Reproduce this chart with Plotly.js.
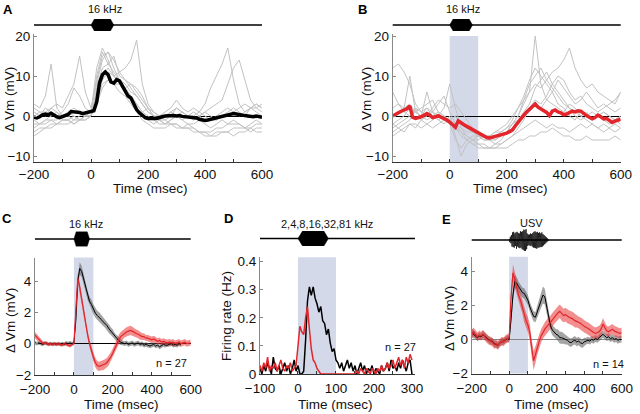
<!DOCTYPE html>
<html><head><meta charset="utf-8">
<script src="https://cdn.plot.ly/plotly-3.0.1.min.js"></script>
<style>html,body{margin:0;padding:0;background:#fff}#chart{width:640px;height:414px}</style>
</head><body><div id="chart"></div>
<script>
// ---------- time grids ----------
const t10 = [-200,-190,-180,-170,-160,-150,-140,-130,-120,-110,-100,-90,-80,-70,-60,-50,-40,-30,-20,-10,0,10,20,30,40,50,60,70,80,90,100,110,120,130,140,150,160,170,180,190,200,210,220,230,240,250,260,270,280,290,300,310,320,330,340,350,360,370,380,390,400,410,420,430,440,450,460,470,480,490,500,510,520,530,540,550,560,570,580,590,600];
const t20 = [-200,-180,-160,-140,-120,-100,-80,-60,-40,-20,0,20,40,60,80,100,120,140,160,180,200,220,240,260,280,300,320,340,360,380,400,420,440,460,480,500,520,540,560,580,600];
const tD = [-100,-95,-90,-85,-80,-75,-70,-65,-60,-55,-50,-45,-40,-35,-30,-25,-20,-15,-10,-5,0,5,10,15,20,25,30,35,40,45,50,55,60,65,70,75,80,85,90,95,100,105,110,115,120,125,130,135,140,145,150,155,160,165,170,175,180,185,190,195,200,205,210,215,220,225,230,235,240,245,250,255,260,265,270,275,280,285,290,295,300];

// ---------- stimulus ----------
const toneOnOff = [0, 80];       // ms, tone pip glyph
const shadeWindow = [0, 100];     // ms, shaded analysis window
const usvT = [0,3,6,9,12,15,18,21,24,27,30,33,36,39,42,45,48,51,54,57,60,63,66,69,72,75,78,81,84,87,90,93,96,99,102,105,108,111,114,117,120,123,126,129,132,135,138,141,144,147,150,153,156,159,162,165,168,171,174,177,180,183,186,189,192,195,198,201,204,207,210];
const usvWave = [0.1,-0.2,0.3,-0.3,0.45,-0.6,0.7,-0.65,0.75,-0.7,0.6,-0.55,0.7,-0.8,0.75,-0.6,0.65,-0.7,0.6,-0.75,0.8,-0.7,0.75,-0.85,0.8,-0.9,0.95,-1.0,0.9,-1.0,1.0,-0.85,0.6,-0.55,0.5,-0.45,0.5,-0.55,0.6,-0.5,0.55,-0.6,0.65,-0.7,0.75,-0.7,0.8,-0.75,0.7,-0.8,0.75,-0.7,0.65,-0.7,0.7,-0.65,0.6,-0.65,0.7,-0.6,0.55,-0.5,0.45,-0.4,0.35,-0.3,0.25,-0.2,0.15,-0.1,0.05];

// ---------- panel A (16 kHz, single cells + mean) ----------
const meanA = [-0.3,-0.5,-0.2,0.3,0.5,0.3,0.7,0.2,-0.2,-0.4,-0.2,0.0,0.4,1.1,1.0,1.1,0.9,0.6,0.8,0.9,1.0,1.3,3.5,8.3,10.3,11.0,10.3,8.5,8.2,9.1,8.8,7.6,6.4,5.0,4.5,3.0,1.6,0.8,0.1,-0.4,-0.6,-0.7,-0.6,-0.6,-0.3,-0.2,0.0,0.1,0.2,0.1,0.0,0.1,-0.1,-0.2,-0.1,-0.3,-0.3,-0.5,-0.8,-1.0,-1.1,-1.0,-0.8,-0.6,-0.4,-0.2,0.0,0.2,0.3,0.4,0.6,0.5,0.3,0.2,0.1,0.0,-0.1,-0.2,0.0,-0.1,-0.3];
const cellsA = [
 [3,2,5,13,2,0,1,2,1,0,1,12,17,14,10,8,6,4,2,0,-1,-2,-1,0,1,0,-1,0,1,0,1,0,-1,0,1,2,1,0,2,3,2],
 [0,1,0,2,3,2,5,8,15,6,2,8,14,16,12,9,7,5,3,1,0,-1,-2,-2,-1,0,-1,-2,-2,-1,-2,-3,-2,-1,-2,-1,-2,-3,-2,-1,-2],
 [-2,-2,-1,-1,-2,-1,-1,0,-1,-1,0,6,10,12,10,11,12,14,19,8,3,1,0,0,1,2,1,0,-1,0,-1,-1,0,1,2,1,0,1,2,1,0],
 [-3,-2,-2,-1,-1,0,1,0,-1,0,0,5,9,11,10,9,7,5,3,1,2,1,0,1,2,4,2,1,2,1,3,7,10,13,17,9,3,1,2,3,2],
 [1,0,2,1,0,1,3,7,5,2,1,9,15,16,14,11,9,8,6,4,2,0,-1,-2,-1,0,1,0,-1,0,1,2,3,4,8,12,14,9,4,2,1],
 [-4,-3,-3,-2,-2,-1,-1,-2,-1,-1,0,4,8,9,8,8,7,8,7,5,2,0,-1,-2,-2,-3,-3,-2,-3,-4,-4,-4,-3,-3,-2,-2,-2,-3,-3,-2,-2],
 [-5,-4,-3,-3,-2,-2,-2,-1,-1,0,0,3,7,9,8,6,5,3,1,-1,-2,-3,-3,-3,-2,-2,-3,-3,-4,-4,-5,-5,-4,-4,-4,-3,-3,-3,-4,-3,-3],
 [-1,-2,-1,0,1,-1,-1,-2,-1,0,0,7,12,13,11,9,8,6,5,3,1,0,0,-1,0,2,1,0,0,1,0,-1,-1,0,0,1,2,3,2,2,3],
 [2,1,1,2,1,0,0,-1,0,1,1,10,16,13,15,10,9,7,5,3,1,0,-1,-1,-2,-2,-3,-3,-3,-4,-4,-5,-5,-4,-4,-5,-4,-4,-3,-4,-4]
];

// ---------- panel B ----------
const meanB = [0.0,0.3,0.8,1.2,1.5,1.8,2.5,-0.3,-0.6,-0.5,-0.2,0.2,0.6,0.2,-0.4,-0.2,0.1,-0.3,-0.6,-1.0,-1.5,-2.3,-2.8,-1.2,-1.8,-2.2,-2.6,-3.0,-3.4,-3.8,-4.0,-4.5,-5.0,-5.4,-5.5,-5.3,-5.1,-5.0,-4.9,-4.6,-4.3,-3.9,-3.5,-2.5,-1.5,-0.8,0.2,1.0,1.6,2.4,3.0,2.2,1.8,1.3,0.9,0.1,1.2,1.5,1.0,0.8,0.3,0.5,0.8,1.2,1.0,1.3,1.2,0.6,0.1,-0.3,-0.7,-0.4,0.2,-0.2,-0.7,-0.6,-1.2,-1.6,-1.3,-1.0,-0.8];
const cellsB = [
 [12,13,11,8,3,1,2,0,-1,0,-1,0,-2,-3,-4,-5,-6,-6,-5,-4,-3,-1,2,5,9,12,10,8,6,9,7,5,3,4,6,4,2,3,2,1,2],
 [6,3,2,10,1,0,2,1,3,5,1,-2,-4,-6,-7,-8,-8,-8,-7,-6,-4,-2,0,3,6,20,8,4,6,3,2,0,-1,1,0,-1,0,1,0,-1,0],
 [-2,-1,0,2,1,0,-1,0,1,0,-2,-3,-4,-5,-6,-6,-5,-5,-4,-3,-2,0,2,4,6,8,7,9,11,12,14,17,12,9,7,8,6,5,4,3,6],
 [0,1,2,3,1,0,6,1,0,2,8,2,-3,-5,-6,-7,-8,-8,-8,-7,-6,-5,-3,-1,2,4,3,5,8,6,4,2,0,-1,0,1,0,-1,-2,-1,-2],
 [-3,-2,-1,0,2,-1,0,1,-1,-2,0,-5,-10,-7,-6,-5,-5,-5,-4,-4,-3,-2,-1,0,1,3,2,4,3,2,1,3,2,0,1,-1,0,1,0,-1,0],
 [-5,-4,-3,-2,-2,-3,-2,-3,-2,-1,-2,-3,-5,-6,-7,-7,-7,-8,-8,-8,-8,-7,-6,-6,-5,-5,-4,-4,-3,-4,-5,-5,-6,-6,-5,-6,-6,-6,-6,-5,-6],
 [2,3,1,0,1,2,3,4,1,0,-1,-2,-3,-4,-4,-5,-5,-6,-6,-5,-4,-2,0,4,8,10,12,9,7,5,3,2,1,0,-1,-2,-3,-2,-3,-2,-3],
 [-4,-3,-4,-2,-3,-1,-2,-1,0,-1,-2,-6,-8,-6,-5,-5,-6,-6,-7,-7,-6,-5,-4,-3,-2,-1,-2,-3,-2,-3,-3,-4,-3,-2,-3,-2,-3,-4,-3,-4,-3],
 [-2,-3,-2,-1,2,1,0,2,4,3,2,3,1,-1,-3,-4,-5,-5,-6,-5,-4,-3,-1,1,3,7,9,11,8,10,9,6,4,5,3,2,1,2,3,4,6]
];

// ---------- panel C (population, n = 27) ----------
const cBlack = [0.05,0.0,0.05,0.0,-0.05,0.05,0.0,-0.05,0.0,-0.05,0.0,-0.05,0.0,-0.05,0.0,-0.05,0.05,0.0,0.05,0.0,0.05,1.5,4.0,4.8,4.6,4.1,3.6,3.1,2.7,2.5,2.2,1.95,1.8,1.7,1.55,1.4,1.3,1.15,0.95,0.8,0.65,0.45,0.35,0.2,0.1,0.05,0.0,0.05,-0.05,0.0,0.05,-0.05,0.0,0.05,-0.05,0.0,-0.1,-0.05,-0.1,-0.15,-0.1,-0.05,-0.15,-0.1,-0.2,-0.1,-0.05,-0.1,-0.1,-0.05,0.0,-0.1,-0.05,-0.1,0.0,-0.05];
const cBlackSem = [0.12,0.12,0.12,0.12,0.12,0.12,0.12,0.12,0.12,0.12,0.12,0.12,0.12,0.12,0.12,0.12,0.12,0.12,0.12,0.12,0.12,0.2,0.3,0.4,0.35,0.3,0.3,0.3,0.3,0.3,0.3,0.3,0.3,0.3,0.3,0.28,0.28,0.28,0.28,0.25,0.25,0.22,0.2,0.2,0.18,0.15,0.15,0.15,0.15,0.15,0.15,0.15,0.15,0.15,0.15,0.15,0.15,0.15,0.15,0.15,0.15,0.15,0.15,0.15,0.15,0.15,0.15,0.15,0.15,0.15,0.15,0.15,0.15,0.15,0.15,0.15];
const cRed = [0.55,0.4,0.3,0.15,0.05,0.0,0.05,-0.05,0.0,-0.05,0.0,-0.05,0.0,-0.05,-0.1,0.0,-0.05,-0.1,-0.15,-0.05,0.0,2.2,4.2,3.6,2.8,2.0,1.2,0.6,0.0,-0.5,-0.85,-1.2,-1.4,-1.45,-1.4,-1.4,-1.3,-1.2,-1.05,-0.85,-0.6,-0.3,0.0,0.25,0.45,0.55,0.7,0.75,0.8,0.85,0.8,0.7,0.65,0.6,0.5,0.45,0.45,0.35,0.35,0.3,0.25,0.3,0.2,0.15,0.2,0.1,0.15,0.1,0.05,0.1,0.05,0.1,0.0,0.05,0.1,0.0,0.05,0.1,0.0,0.05,0.05];
const cRedSem = [0.2,0.2,0.18,0.15,0.12,0.1,0.1,0.1,0.1,0.1,0.1,0.1,0.1,0.1,0.1,0.1,0.1,0.1,0.1,0.1,0.1,0.25,0.35,0.3,0.3,0.25,0.25,0.25,0.25,0.25,0.28,0.3,0.3,0.3,0.3,0.3,0.3,0.3,0.3,0.3,0.3,0.3,0.3,0.3,0.3,0.3,0.3,0.3,0.3,0.3,0.28,0.28,0.25,0.25,0.25,0.22,0.22,0.2,0.2,0.2,0.2,0.2,0.2,0.2,0.2,0.2,0.2,0.2,0.2,0.2,0.2,0.2,0.2,0.2,0.2,0.2,0.2,0.2,0.2,0.2,0.2];

// ---------- panel D (firing rate, n = 27) ----------
const dBlack = [0.02,0.00,0.03,0.01,0.04,0.02,0.00,0.06,0.02,0.01,0.03,0.00,0.02,0.04,0.01,0.03,0.00,0.02,0.05,0.01,0.03,0.00,0.00,0.01,0.12,0.26,0.31,0.28,0.31,0.27,0.25,0.22,0.24,0.19,0.18,0.14,0.16,0.11,0.08,0.09,0.05,0.04,0.02,0.04,0.01,0.03,0.05,0.02,0.04,0.01,0.03,0.00,0.02,0.04,0.01,0.03,0.00,0.02,0.01,0.03,0.00,0.02,0.01,0.00,0.03,0.01,0.02,0.04,0.01,0.05,0.02,0.03,0.01,0.04,0.02,0.05,0.03,0.01,0.04,0.05,0.00];
const dRed = [0.03,0.01,0.04,0.02,0.06,0.01,0.03,0.02,0.04,0.01,0.03,0.05,0.02,0.01,0.03,0.02,0.04,0.01,0.02,0.03,0.10,0.17,0.15,0.14,0.20,0.24,0.16,0.09,0.05,0.04,0.02,0.01,0.00,0.00,0.00,0.00,0.00,0.00,0.00,0.00,0.00,0.00,0.00,0.00,0.00,0.00,0.00,0.00,0.00,0.00,0.00,0.01,0.00,0.02,0.01,0.00,0.02,0.01,0.00,0.02,0.01,0.00,0.02,0.01,0.03,0.01,0.02,0.04,0.02,0.03,0.05,0.02,0.04,0.06,0.03,0.05,0.02,0.06,0.04,0.07,0.05];

// ---------- panel E (USV, n = 14) ----------
const eBlack = [0.4,0.3,0.25,0.1,0.2,0.15,0.3,0.2,0.1,0.0,-0.1,-0.1,-0.25,-0.3,-0.35,-0.2,-0.15,-0.1,-0.05,0.05,0.0,1.2,2.6,3.4,3.3,3.1,2.9,2.75,2.7,2.5,2.3,1.9,1.6,1.35,1.3,1.6,2.0,2.3,2.6,2.5,1.9,1.3,0.8,0.55,0.4,0.3,0.25,0.1,0.1,0.05,0.0,-0.05,-0.15,-0.2,-0.1,-0.05,-0.15,-0.1,-0.2,-0.25,-0.15,-0.1,-0.05,-0.1,0.0,-0.05,0.05,0.0,0.1,0.2,0.3,0.2,0.1,0.15,0.05,0.1,0.0,0.05,-0.05,0.0,0.0];
const eBlackSem = [0.25,0.25,0.2,0.2,0.2,0.2,0.2,0.2,0.2,0.2,0.2,0.2,0.2,0.2,0.2,0.2,0.2,0.2,0.2,0.2,0.2,0.3,0.35,0.4,0.35,0.3,0.3,0.3,0.3,0.3,0.3,0.3,0.3,0.3,0.3,0.35,0.4,0.45,0.5,0.45,0.4,0.35,0.3,0.3,0.3,0.3,0.35,0.35,0.35,0.3,0.3,0.25,0.25,0.25,0.25,0.25,0.25,0.25,0.25,0.25,0.25,0.2,0.2,0.2,0.2,0.2,0.2,0.2,0.2,0.2,0.2,0.2,0.2,0.2,0.2,0.2,0.2,0.2,0.2,0.2,0.2];
const eRed = [0.3,0.45,0.3,0.15,0.25,0.2,0.3,0.15,0.05,-0.05,-0.1,-0.15,-0.3,-0.25,-0.35,-0.2,-0.1,-0.15,0.0,0.05,0.1,2.5,3.9,3.5,3.0,2.6,2.3,1.9,1.4,1.1,0.85,0.4,-0.5,-1.25,-0.9,-0.45,-0.1,0.2,0.45,0.6,0.75,0.85,1.0,1.15,1.3,1.45,1.55,1.65,1.5,1.4,1.45,1.35,1.3,1.25,1.2,1.1,1.05,1.0,0.95,0.85,0.75,0.7,0.65,0.55,0.45,0.4,0.35,0.4,0.45,0.6,0.9,0.7,0.5,0.45,0.55,0.6,0.5,0.45,0.4,0.35,0.4];
const eRedSem = [0.25,0.25,0.25,0.25,0.25,0.25,0.25,0.25,0.25,0.25,0.25,0.25,0.25,0.25,0.25,0.25,0.25,0.25,0.25,0.25,0.25,0.35,0.5,0.45,0.4,0.4,0.4,0.4,0.4,0.45,0.45,0.5,0.5,0.55,0.5,0.45,0.4,0.4,0.4,0.4,0.4,0.4,0.4,0.4,0.4,0.4,0.4,0.4,0.4,0.4,0.4,0.4,0.4,0.4,0.4,0.4,0.35,0.35,0.35,0.35,0.35,0.35,0.35,0.35,0.35,0.35,0.35,0.35,0.35,0.35,0.35,0.3,0.3,0.3,0.3,0.3,0.3,0.3,0.3,0.3,0.3];

// ---------- helpers ----------
const RED = '#e2262b';
const FONT = 'Liberation Sans, Arial, Helvetica, sans-serif';
function band(t, m, s, xa, ya, color) {
  const up = m.map((v, i) => v + s[i]);
  const lo = m.map((v, i) => v - s[i]).reverse();
  return {x: t.concat(t.slice().reverse()), y: up.concat(lo), xaxis: xa, yaxis: ya,
          type: 'scatter', mode: 'lines', fill: 'toself', fillcolor: color,
          line: {width: 0}, hoverinfo: 'skip'};
}
function line(t, y, xa, ya, color, w) {
  return {x: t, y: y, xaxis: xa, yaxis: ya, type: 'scatter', mode: 'lines',
          line: {color: color, width: w}, hoverinfo: 'skip'};
}
function tonePip(xa, ya) {
  const on = toneOnOff[0], off = toneOnOff[1], r = (off - on) * 0.15;
  return {x: [on, on + r, off - r, off, off - r, on + r, on], y: [0, 1, 1, 0, -1, -1, 0],
          xaxis: xa, yaxis: ya, type: 'scatter', mode: 'lines', fill: 'toself',
          fillcolor: '#000', line: {color: '#000', width: 0.5}, hoverinfo: 'skip'};
}

const traces = [];
cellsA.forEach(c => traces.push(line(t20, c, 'x', 'y', '#c2c2c2', 1)));
traces.push(line(t10, meanA, 'x', 'y', '#000', 3.5));
cellsB.forEach(c => traces.push(line(t20, c, 'x2', 'y2', '#c2c2c2', 1)));
traces.push(line(t10, meanB, 'x2', 'y2', RED, 3.5));
const tC = t10.slice(0, cBlack.length);
traces.push(band(tC, cBlack, cBlackSem, 'x3', 'y3', 'rgba(90,90,90,0.55)'));
traces.push(band(t10, cRed, cRedSem, 'x3', 'y3', 'rgba(232,50,50,0.55)'));
traces.push(line(tC, cBlack, 'x3', 'y3', '#000', 1));
traces.push(line(t10, cRed, 'x3', 'y3', RED, 1.2));
traces.push(line(tD, dBlack, 'x4', 'y4', '#000', 1.5));
traces.push(line(tD, dRed, 'x4', 'y4', RED, 1.5));
traces.push(band(t10, eBlack, eBlackSem, 'x5', 'y5', 'rgba(90,90,90,0.55)'));
traces.push(band(t10, eRed, eRedSem, 'x5', 'y5', 'rgba(232,50,50,0.55)'));
traces.push(line(t10, eBlack, 'x5', 'y5', '#000', 1));
traces.push(line(t10, eRed, 'x5', 'y5', RED, 1.2));
// stimulus glyphs
traces.push(tonePip('x', 'y6'));
traces.push(tonePip('x2', 'y7'));
traces.push(tonePip('x3', 'y8'));
traces.push(tonePip('x4', 'y9'));
traces.push(line(usvT, usvWave, 'x5', 'y10', '#000', 0.7));

// ---------- layout ----------
const px = v => v / 640, py = v => 1 - v / 414;
const tickFont = {family: FONT, size: 13.5, color: '#111'};
function xa(dom, anchor, range, tv, minorStep, standoff) {
  return {domain: dom, anchor: anchor, range: range, tickvals: tv, showgrid: false, zeroline: false,
          showline: true, linecolor: '#333', linewidth: 1, ticks: 'inside', ticklen: 3, tickcolor: '#333',
          minor: {dtick: minorStep, tick0: range[0], ticks: 'inside', ticklen: 3, tickcolor: '#333', showgrid: false},
          ticklabelstandoff: standoff, tickfont: tickFont, fixedrange: true, layer: 'below traces'};
}
function ya(dom, anchor, range, tv, zl, zlc) {
  return {domain: dom, anchor: anchor, range: range, tickvals: tv, showgrid: false,
          zeroline: zl, zerolinecolor: zlc || '#000', zerolinewidth: 1,
          showline: true, linecolor: '#888', linewidth: 1, ticks: 'inside', ticklen: 3, tickcolor: '#888',
          tickfont: tickFont, fixedrange: true};
}
function stimY(dom, anchor, r) {
  return {domain: dom, anchor: anchor, range: [-r, r], visible: false, fixedrange: true};
}
const topDom = [py(162), py(34)];
const layout = {
  width: 640, height: 414, margin: {l: 0, r: 0, t: 0, b: 0},
  paper_bgcolor: '#fff', plot_bgcolor: 'rgba(0,0,0,0)', showlegend: false,
  font: {family: FONT, size: 13, color: '#111'},
  xaxis:  xa([px(34), px(262)], 'y', [-200, 600], [-200, 0, 200, 400, 600], 100, 0),
  yaxis:  ya(topDom, 'x', [-11.5, 20.5], [-10, 0, 10, 20], true),
  xaxis2: xa([px(392.7), px(620.7)], 'y2', [-200, 600], [-200, 0, 200, 400, 600], 100, 0),
  yaxis2: ya(topDom, 'x2', [-11.5, 20.5], [-10, 0, 10, 20], true),
  xaxis3: xa([px(35), px(190.7)], 'y3', [-200, 600], [-200, 0, 200, 400, 600], 100, 2),
  yaxis3: ya([py(375), py(257.5)], 'x3', [-2, 5.5], [-2, 0, 2, 4], true),
  xaxis4: xa([px(260), px(415)], 'y4', [-100, 308], [-100, 0, 100, 200, 300], 50, 2),
  yaxis4: ya([py(374), py(257.3)], 'x4', [0, 0.4155], [0, 0.1, 0.2, 0.3, 0.4], false),
  xaxis5: xa([px(471.7), px(621.7)], 'y5', [-200, 600], [-200, 0, 200, 400, 600], 100, 2),
  yaxis5: ya([py(373.5), py(256.7)], 'x5', [-2, 4.85], [-2, 0, 2, 4], true, '#888'),
  yaxis6: stimY([py(31), py(19)], 'x', 1),
  yaxis7: stimY([py(31), py(19)], 'x2', 1),
  yaxis8: stimY([py(246.5), py(231.5)], 'x3', 1),
  yaxis9: stimY([py(246), py(231)], 'x4', 1),
  yaxis10: stimY([py(252), py(228)], 'x5', 1.1),
  shapes: [],
  annotations: []
};
// stimulus baselines
[['x', 'y6'], ['x2', 'y7'], ['x3', 'y8'], ['x4', 'y9'], ['x5', 'y10']].forEach(p => {
  layout.shapes.push({type: 'line', xref: p[0] + ' domain', x0: 0, x1: 1, yref: p[1], y0: 0, y1: 0,
                      line: {color: '#000', width: 1.3}, layer: 'below'});
});
// shaded windows
[['x2', 'y2', 0.985], ['x3', 'y3', 1], ['x4', 'y4', 1], ['x5', 'y5', 1]].forEach(p => {
  layout.shapes.push({type: 'rect', xref: p[0], x0: shadeWindow[0], x1: shadeWindow[1],
                      yref: p[1] + ' domain', y0: 0, y1: p[2], fillcolor: '#d4d9ea', line: {width: 0}, layer: 'below'});
});
function ann(text, x, y, opts) {
  layout.annotations.push(Object.assign({text: text, xref: 'paper', yref: 'paper', x: px(x), y: py(y),
    xanchor: 'center', yanchor: 'middle', showarrow: false, font: {family: FONT, size: 13.5, color: '#111'}}, opts || {}));
}
const letterFont = {family: FONT, size: 13, color: '#000', weight: 'bold'};
ann('<b>A</b>', 8, 10, {font: letterFont});
ann('<b>B</b>', 362, 10, {font: letterFont});
ann('<b>C</b>', 7, 218, {font: letterFont});
ann('<b>D</b>', 228, 218, {font: letterFont});
ann('<b>E</b>', 446, 219, {font: letterFont});
const small = {family: FONT, size: 11, color: '#111'};
ann('16 kHz', 105, 9.5, {font: small});
ann('16 kHz', 463, 9.5, {font: small});
ann('16 kHz', 86, 224, {font: small});
ann('2,4,8,16,32,81 kHz', 326.5, 224, {font: small});
ann('USV', 531, 222.5, {font: small});
ann('n = 27', 189, 363, {font: small, xanchor: 'right'});
ann('n = 27', 418, 347, {font: small, xanchor: 'right'});
ann('n = 14', 626, 364, {font: small, xanchor: 'right'});
ann('Time (msec)', 150, 188.5);
ann('Time (msec)', 510, 188.5);
ann('Time (msec)', 121.7, 404);
ann('Time (msec)', 335.8, 404);
ann('Time (msec)', 551.7, 404);
ann('Δ Vm (mV)', 10, 100, {textangle: -90});
ann('Δ Vm (mV)', 367, 100, {textangle: -90});
ann('Δ Vm (mV)', 10, 321, {textangle: -90});
ann('Firing rate (Hz)', 226, 316, {textangle: -90});
ann('Δ Vm (mV)', 449, 319, {textangle: -90});

Plotly.newPlot('chart', traces, layout, {staticPlot: true, displayModeBar: false});
</script></body></html>
